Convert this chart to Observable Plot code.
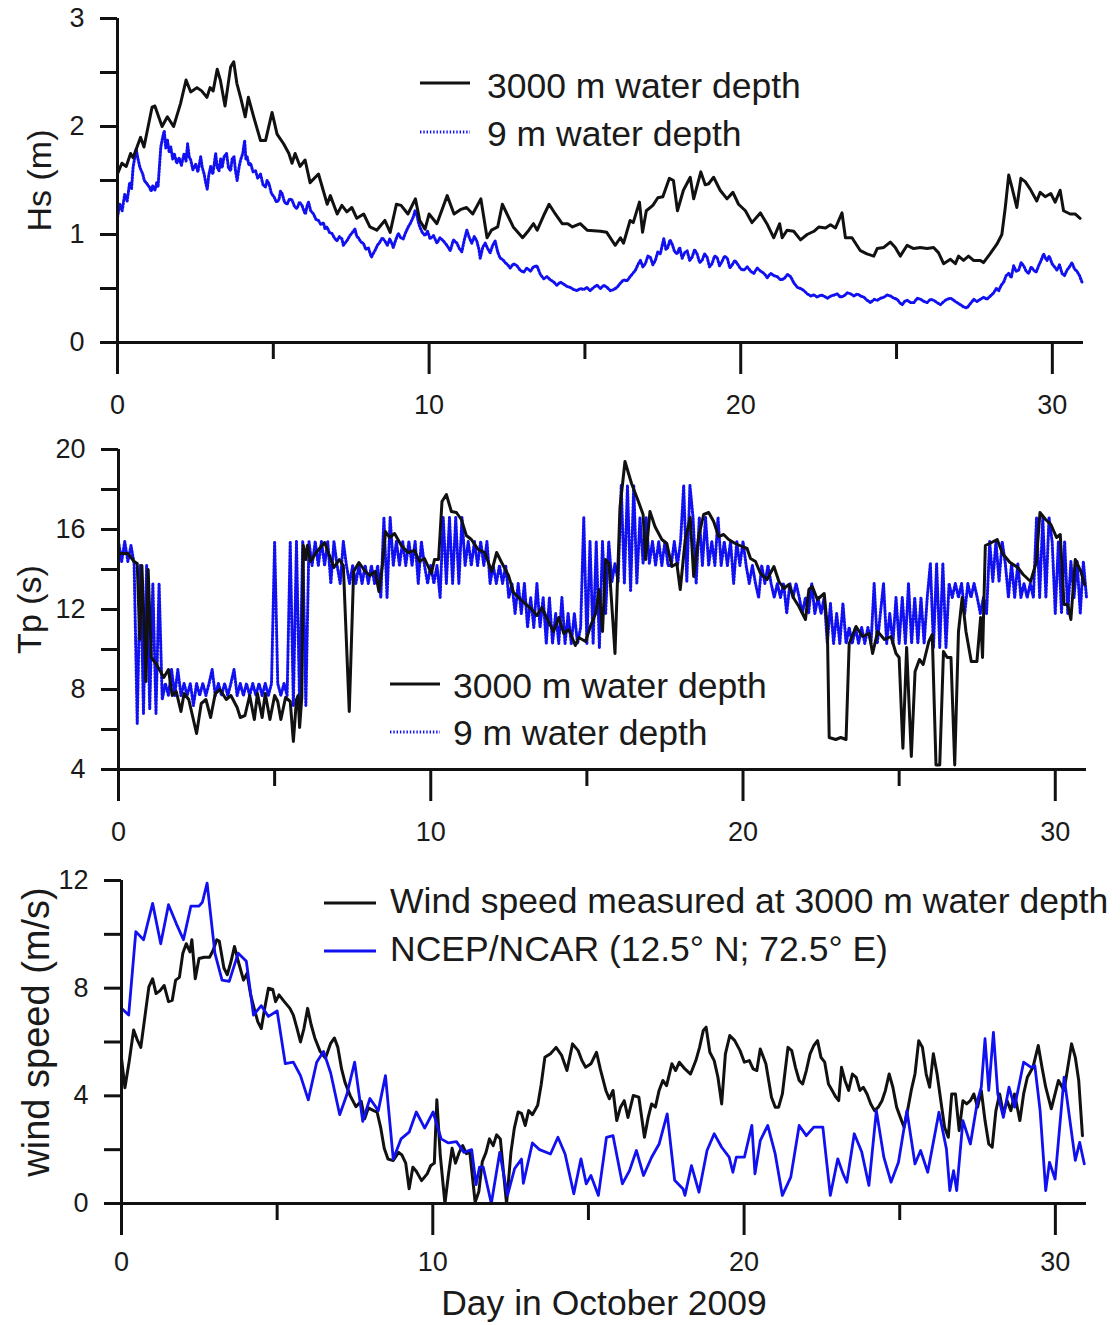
<!DOCTYPE html>
<html>
<head>
<meta charset="utf-8">
<script src="https://cdn.jsdelivr.net/npm/d3@7"></script>
<script src="https://cdn.jsdelivr.net/npm/@observablehq/plot@0.6"></script>
<style>
  body { margin: 0; background: #fff; }
  #wrap { position: relative; width: 1120px; height: 1325px; font-family: "Liberation Sans", Arial, Helvetica, sans-serif; }
  #wrap svg { display: block; }
  .legtext { position: absolute; font-size: 35.5px; line-height: 36px; height: 36px; color: #1a1a1a; white-space: nowrap; }
  .legline { position: absolute; overflow: visible; }
</style>
</head>
<body>
<div id="wrap"></div>
<script>
// ---------------- DATA ----------------
const xMajorTicks = [0, 10, 20, 30];
const xMinorTicks = [5, 15, 25];
const hsMajor = [0, 1, 2, 3];
const hsMinor = [0.5, 1.5, 2.5];
const tpMajor = [4, 8, 12, 16, 20];
const tpMinor = [6, 10, 14, 18];
const wsMajor = [0, 4, 8, 12];
const wsMinor = [2, 6, 10];

const seriesTp = ["3000 m water depth", "9 m water depth"];
const seriesWind = ["Wind speed measured at 3000 m water depth", "NCEP/NCAR (12.5\u00B0 N; 72.5\u00B0 E)"];
const yTitles = ["Hs (m)", "Tp (s)", "wind speed (m/s)"];
const xTitle = "Day in October 2009";

// Hs at 3000 m water depth  [day, m]
const hsDeep = [[0,1.56],[0.14,1.66],[0.28,1.63],[0.42,1.75],[0.5,1.71],[0.74,1.90],[0.85,1.81],[1.11,2.18],[1.2,2.19],[1.43,2.0],[1.6,2.09],[1.8,2.0],[2.02,2.21],[2.2,2.43],[2.35,2.32],[2.55,2.36],[2.7,2.33],[2.87,2.27],[2.97,2.36],[3.07,2.33],[3.2,2.53],[3.3,2.43],[3.45,2.19],[3.63,2.55],[3.73,2.60],[3.83,2.40],[3.95,2.27],[4.1,2.09],[4.2,2.27],[4.37,2.09],[4.59,1.87],[4.75,1.87],[4.96,2.13],[5.12,1.93],[5.33,1.84],[5.5,1.75],[5.6,1.66],[5.7,1.75],[5.86,1.63],[6.02,1.69],[6.18,1.48],[6.45,1.56],[6.73,1.28],[6.83,1.36],[7.05,1.19],[7.2,1.27],[7.36,1.21],[7.52,1.25],[7.68,1.15],[7.9,1.19],[8.1,1.07],[8.32,1.04],[8.58,1.13],[8.75,1.02],[8.95,1.28],[9.1,1.27],[9.32,1.19],[9.56,1.33],[9.7,1.13],[9.87,1.05],[10.0,1.19],[10.25,1.10],[10.58,1.36],[10.8,1.19],[11.0,1.23],[11.2,1.25],[11.4,1.19],[11.66,1.33],[11.86,0.97],[12.0,1.04],[12.2,1.07],[12.35,1.28],[12.5,1.19],[12.7,1.07],[13.0,0.97],[13.2,1.04],[13.35,1.10],[13.47,1.04],[13.7,1.19],[13.85,1.28],[14.05,1.19],[14.27,1.10],[14.45,1.10],[14.6,1.07],[14.85,1.10],[15.07,1.04],[15.5,1.03],[15.7,1.02],[15.97,0.90],[16.14,0.97],[16.24,0.92],[16.45,1.13],[16.55,1.11],[16.75,1.30],[16.85,1.02],[16.97,1.22],[17.18,1.27],[17.34,1.34],[17.5,1.35],[17.71,1.52],[17.84,1.50],[17.97,1.22],[18.16,1.41],[18.38,1.53],[18.49,1.33],[18.72,1.58],[18.86,1.46],[18.97,1.47],[19.13,1.53],[19.34,1.41],[19.56,1.33],[19.75,1.39],[19.93,1.28],[20.15,1.22],[20.36,1.11],[20.63,1.20],[20.84,1.10],[21.06,0.97],[21.25,1.10],[21.33,0.97],[21.49,1.04],[21.7,1.03],[21.92,0.95],[22.13,1.00],[22.35,1.03],[22.51,1.07],[22.72,1.06],[22.88,1.09],[23.04,1.06],[23.25,1.20],[23.36,0.97],[23.57,0.97],[23.84,0.85],[24.05,0.82],[24.27,0.80],[24.38,0.87],[24.59,0.88],[24.8,0.93],[24.96,0.88],[25.12,0.80],[25.34,0.90],[25.55,0.87],[25.76,0.88],[25.98,0.87],[26.19,0.88],[26.35,0.83],[26.51,0.73],[26.73,0.77],[26.89,0.73],[26.99,0.80],[27.15,0.76],[27.31,0.80],[27.47,0.76],[27.69,0.76],[27.79,0.74],[28.0,0.82],[28.22,0.91],[28.38,1.00],[28.49,1.25],[28.6,1.55],[28.7,1.44],[28.86,1.25],[28.99,1.52],[29.13,1.49],[29.29,1.42],[29.5,1.31],[29.61,1.39],[29.77,1.35],[29.95,1.38],[30.09,1.30],[30.25,1.41],[30.36,1.22],[30.57,1.19],[30.73,1.19],[30.89,1.15]];

// Hs at 9 m water depth  [day, m]
const hsShallow = [[0,1.16],[0.07,1.28],[0.15,1.22],[0.23,1.37],[0.31,1.31],[0.39,1.48],[0.45,1.42],[0.5,1.62],[0.6,1.79],[0.65,1.71],[0.72,1.62],[0.81,1.56],[0.86,1.50],[0.92,1.48],[1.02,1.44],[1.08,1.40],[1.13,1.45],[1.2,1.41],[1.26,1.48],[1.3,1.44],[1.39,1.81],[1.45,1.90],[1.5,1.96],[1.55,1.80],[1.6,1.88],[1.66,1.76],[1.71,1.81],[1.77,1.70],[1.82,1.75],[1.9,1.66],[1.98,1.71],[2.05,1.64],[2.14,1.75],[2.2,1.68],[2.25,1.84],[2.3,1.72],[2.35,1.69],[2.42,1.60],[2.51,1.65],[2.58,1.58],[2.67,1.72],[2.72,1.62],[2.78,1.56],[2.83,1.48],[2.88,1.42],[2.93,1.55],[2.99,1.63],[3.06,1.56],[3.15,1.75],[3.2,1.62],[3.26,1.59],[3.31,1.70],[3.36,1.62],[3.42,1.72],[3.5,1.75],[3.56,1.62],[3.63,1.59],[3.68,1.70],[3.74,1.72],[3.79,1.58],[3.84,1.50],[3.9,1.62],[3.95,1.69],[4.02,1.75],[4.08,1.87],[4.12,1.70],[4.16,1.72],[4.22,1.64],[4.27,1.66],[4.35,1.58],[4.43,1.59],[4.5,1.52],[4.59,1.56],[4.67,1.46],[4.75,1.44],[4.8,1.50],[4.86,1.47],[4.94,1.38],[5.02,1.35],[5.1,1.30],[5.18,1.32],[5.23,1.40],[5.28,1.38],[5.36,1.30],[5.44,1.28],[5.52,1.33],[5.6,1.32],[5.68,1.26],[5.76,1.24],[5.84,1.30],[5.92,1.27],[5.98,1.22],[6.03,1.19],[6.08,1.26],[6.13,1.30],[6.2,1.22],[6.29,1.19],[6.37,1.14],[6.45,1.13],[6.53,1.09],[6.61,1.11],[6.66,1.05],[6.72,1.07],[6.8,1.02],[6.88,1.01],[6.96,0.97],[7.04,0.94],[7.12,0.98],[7.2,0.96],[7.25,0.90],[7.3,0.92],[7.38,0.95],[7.46,0.99],[7.54,1.02],[7.62,1.05],[7.68,0.98],[7.73,0.97],[7.81,0.93],[7.89,0.92],[7.97,0.86],[8.05,0.88],[8.1,0.83],[8.15,0.79],[8.2,0.82],[8.26,0.85],[8.34,0.90],[8.42,0.93],[8.5,0.97],[8.58,0.94],[8.66,0.90],[8.74,0.96],[8.8,0.92],[8.85,0.88],[8.93,0.95],[9.01,1.01],[9.09,0.97],[9.17,0.96],[9.25,1.02],[9.33,1.07],[9.41,1.11],[9.49,1.16],[9.55,1.22],[9.6,1.19],[9.65,1.12],[9.7,1.07],[9.78,1.02],[9.87,0.99],[9.95,1.03],[10.03,0.96],[10.14,0.99],[10.25,0.92],[10.35,0.97],[10.46,0.94],[10.57,0.90],[10.68,0.85],[10.78,0.95],[10.89,0.92],[10.97,0.87],[11.05,0.84],[11.13,0.95],[11.21,1.04],[11.29,0.97],[11.37,0.92],[11.45,0.98],[11.53,0.94],[11.6,0.86],[11.64,0.78],[11.72,0.88],[11.8,0.92],[11.88,0.87],[11.96,0.83],[12.04,0.90],[12.12,0.94],[12.2,0.84],[12.28,0.78],[12.36,0.77],[12.44,0.74],[12.52,0.72],[12.6,0.69],[12.71,0.73],[12.82,0.71],[12.92,0.67],[13.03,0.65],[13.14,0.69],[13.25,0.66],[13.35,0.70],[13.46,0.71],[13.57,0.63],[13.68,0.59],[13.78,0.61],[13.89,0.58],[14.0,0.56],[14.1,0.53],[14.21,0.56],[14.32,0.54],[14.42,0.52],[14.53,0.51],[14.64,0.49],[14.75,0.48],[14.85,0.50],[14.96,0.49],[15.06,0.51],[15.17,0.48],[15.28,0.51],[15.39,0.53],[15.5,0.50],[15.6,0.53],[15.71,0.51],[15.82,0.48],[15.92,0.49],[16.03,0.51],[16.14,0.55],[16.24,0.58],[16.35,0.57],[16.45,0.61],[16.54,0.64],[16.62,0.67],[16.7,0.72],[16.78,0.76],[16.86,0.70],[16.94,0.73],[17.02,0.80],[17.1,0.79],[17.18,0.72],[17.26,0.76],[17.34,0.84],[17.42,0.82],[17.48,0.90],[17.53,0.96],[17.6,0.86],[17.66,0.88],[17.73,0.95],[17.8,0.91],[17.88,0.84],[17.96,0.82],[18.04,0.88],[18.12,0.78],[18.2,0.83],[18.28,0.85],[18.36,0.76],[18.44,0.79],[18.52,0.86],[18.6,0.82],[18.68,0.74],[18.76,0.76],[18.84,0.82],[18.92,0.79],[19.0,0.70],[19.08,0.73],[19.16,0.80],[19.24,0.79],[19.32,0.71],[19.4,0.75],[19.48,0.80],[19.57,0.78],[19.65,0.69],[19.73,0.72],[19.81,0.76],[19.89,0.73],[20.0,0.68],[20.1,0.67],[20.21,0.70],[20.32,0.66],[20.42,0.64],[20.53,0.69],[20.64,0.66],[20.75,0.64],[20.85,0.60],[20.96,0.64],[21.06,0.62],[21.17,0.61],[21.28,0.58],[21.39,0.59],[21.5,0.63],[21.6,0.61],[21.71,0.55],[21.82,0.51],[21.92,0.50],[22.03,0.48],[22.14,0.45],[22.25,0.43],[22.35,0.44],[22.46,0.42],[22.57,0.44],[22.67,0.43],[22.78,0.41],[22.89,0.43],[23.0,0.44],[23.1,0.45],[23.2,0.42],[23.31,0.43],[23.42,0.46],[23.53,0.45],[23.64,0.43],[23.74,0.45],[23.85,0.43],[23.95,0.42],[24.06,0.39],[24.17,0.37],[24.28,0.40],[24.38,0.39],[24.49,0.41],[24.6,0.42],[24.7,0.44],[24.81,0.43],[24.92,0.41],[25.02,0.40],[25.1,0.37],[25.18,0.35],[25.26,0.38],[25.34,0.39],[25.45,0.37],[25.56,0.37],[25.66,0.41],[25.77,0.40],[25.88,0.38],[25.98,0.37],[26.09,0.40],[26.2,0.39],[26.3,0.37],[26.41,0.35],[26.52,0.38],[26.62,0.40],[26.73,0.41],[26.84,0.39],[26.94,0.37],[27.05,0.35],[27.15,0.33],[27.26,0.32],[27.37,0.36],[27.48,0.40],[27.58,0.38],[27.69,0.40],[27.8,0.42],[27.9,0.40],[28.01,0.43],[28.12,0.46],[28.2,0.50],[28.28,0.48],[28.36,0.53],[28.44,0.56],[28.52,0.62],[28.6,0.64],[28.68,0.60],[28.76,0.71],[28.84,0.66],[28.92,0.67],[29.0,0.74],[29.08,0.71],[29.16,0.66],[29.24,0.64],[29.32,0.70],[29.4,0.67],[29.48,0.65],[29.56,0.71],[29.64,0.76],[29.72,0.82],[29.78,0.78],[29.83,0.76],[29.9,0.80],[29.99,0.73],[30.07,0.70],[30.15,0.67],[30.23,0.72],[30.31,0.64],[30.39,0.62],[30.47,0.67],[30.55,0.70],[30.63,0.74],[30.71,0.68],[30.79,0.66],[30.87,0.62],[30.95,0.56]];

// Tp at 3000 m water depth [day, s]
const tpDeep = [[0,14.8],[0.3,14.8],[0.5,14.4],[0.6,14.3],[0.68,10.5],[0.75,14.2],[0.88,8.4],[0.95,14.0],[1.05,9.6],[1.2,9.3],[1.45,8.6],[1.6,9.0],[1.72,7.7],[1.85,7.9],[2.0,6.9],[2.1,7.8],[2.25,7.5],[2.5,5.8],[2.65,7.3],[2.8,7.5],[2.95,6.6],[3.1,7.8],[3.25,8.0],[3.45,7.5],[3.6,7.7],[3.8,7.1],[3.9,6.6],[4.05,6.7],[4.2,7.7],[4.35,6.5],[4.45,7.8],[4.6,6.6],[4.7,7.8],[4.85,6.5],[5.0,7.7],[5.1,7.4],[5.2,6.5],[5.35,7.6],[5.5,7.4],[5.6,5.4],[5.7,7.5],[5.75,7.7],[5.8,6.1],[5.87,7.6],[5.92,15.2],[6.0,14.5],[6.05,15.2],[6.15,14.4],[6.33,14.85],[6.6,15.35],[6.9,14.1],[7.07,14.5],[7.2,14.2],[7.39,6.9],[7.53,13.9],[7.7,14.35],[7.88,13.95],[8.05,13.7],[8.22,13.9],[8.34,12.9],[8.45,14.2],[8.55,15.9],[8.68,15.6],[8.84,15.8],[9.06,15.2],[9.27,14.85],[9.48,14.95],[9.64,14.4],[9.8,14.55],[10.02,13.8],[10.12,14.5],[10.25,14.5],[10.36,17.4],[10.5,17.75],[10.66,16.9],[10.82,16.85],[10.98,16.5],[11.14,15.7],[11.3,15.5],[11.52,15.0],[11.73,14.85],[11.95,13.9],[12.11,14.85],[12.27,14.35],[12.49,13.7],[12.65,12.85],[12.81,12.6],[13.02,12.3],[13.24,12.0],[13.4,11.7],[13.56,12.1],[13.77,11.4],[13.93,10.9],[14.1,11.6],[14.26,10.8],[14.42,11.0],[14.63,10.2],[14.74,10.6],[14.96,10.4],[15.12,11.2],[15.28,11.8],[15.39,13.0],[15.5,10.9],[15.6,14.5],[15.71,14.3],[15.9,9.8],[16.06,17.1],[16.22,19.4],[16.43,18.3],[16.65,17.4],[16.8,16.75],[16.88,14.5],[17.02,16.9],[17.18,16.15],[17.4,15.5],[17.56,15.3],[17.72,14.15],[17.88,14.3],[17.99,13.0],[18.15,15.5],[18.31,16.6],[18.42,13.65],[18.58,15.65],[18.74,16.75],[18.9,16.85],[19.06,16.4],[19.22,15.65],[19.38,15.75],[19.54,15.5],[19.75,15.3],[19.97,15.15],[20.13,15.05],[20.24,14.55],[20.4,14.4],[20.56,13.8],[20.77,13.5],[20.99,14.15],[21.15,13.4],[21.31,13.05],[21.47,13.25],[21.63,12.55],[21.79,12.15],[22.0,11.5],[22.11,13.0],[22.22,13.15],[22.38,12.5],[22.6,12.8],[22.7,11.15],[22.76,5.6],[22.97,5.5],[23.13,5.6],[23.3,5.5],[23.4,10.3],[23.62,11.15],[23.83,10.65],[24.04,10.8],[24.15,9.8],[24.31,10.9],[24.53,10.5],[24.74,10.65],[24.9,9.8],[25.0,9.6],[25.12,5.06],[25.24,10.1],[25.39,4.65],[25.51,8.9],[25.65,9.5],[25.77,9.25],[25.95,10.4],[26.06,10.75],[26.18,4.23],[26.3,4.23],[26.42,9.9],[26.54,9.6],[26.66,9.6],[26.78,4.23],[26.9,10.9],[27.02,12.6],[27.14,10.9],[27.31,9.4],[27.49,9.4],[27.61,11.6],[27.67,9.6],[27.76,15.2],[27.9,15.3],[28.14,15.5],[28.31,14.8],[28.55,14.35],[28.8,14.1],[28.97,13.75],[29.21,13.4],[29.39,14.35],[29.51,16.85],[29.69,16.5],[29.86,16.25],[30.04,15.6],[30.16,15.75],[30.28,12.25],[30.4,12.25],[30.5,11.5],[30.64,14.5],[30.82,13.9],[30.94,13.25]];

// Tp at 9 m water depth, sampled every 0.1 day from day 0
const tpShallowStart = 0;
const tpShallowStep = 0.1;
const tpShallow = [
15.4,14.4,15.4,14.4,15.2,14.3,6.3,14.2,6.8,14.2,
7.0,13.3,6.8,13.3,7.5,8.3,7.7,9.0,7.7,9.0,
7.7,8.3,7.7,8.3,7.2,8.3,7.7,8.3,7.7,8.3,
9.0,7.7,8.3,7.7,8.3,7.7,8.3,9.0,7.7,8.3,
7.7,8.3,7.7,8.3,7.7,8.3,7.7,8.3,7.7,8.3,
15.4,8.3,7.7,8.3,7.7,15.4,7.2,15.4,7.2,15.4,
7.2,15.4,14.2,15.4,14.2,15.4,14.2,15.4,13.3,15.4,
14.2,13.3,15.4,14.2,13.3,14.2,13.3,14.2,13.3,14.2,
13.3,14.2,13.3,14.2,12.6,16.6,12.6,16.6,14.2,15.4,
14.2,15.4,14.2,15.4,14.2,15.4,13.3,15.4,14.2,13.3,
14.2,13.3,14.2,12.6,16.6,13.3,16.6,13.3,16.6,13.3,
16.6,14.2,15.4,14.2,15.4,14.2,15.4,14.2,15.4,13.3,
14.2,13.3,14.2,13.3,14.2,12.6,13.3,11.8,13.3,11.8,
13.3,11.1,12.6,11.1,13.3,11.1,12.6,10.3,12.6,10.3,
11.8,10.3,12.6,10.3,11.8,10.3,11.8,10.3,11.1,16.6,
10.3,15.4,10.3,15.4,10.1,15.4,11.8,15.4,13.4,14.3,
13.4,18.2,13.3,18.2,12.9,18.2,13.3,16.6,14.3,16.6,
14.3,15.4,14.2,15.4,14.2,15.4,14.2,14.2,15.4,14.2,
15.4,18.2,13.4,18.2,16.6,13.3,16.6,14.2,16.6,14.2,
15.4,14.2,16.6,14.2,15.4,14.2,15.4,13.3,15.4,14.2,
15.4,14.2,13.3,14.2,13.3,12.6,14.2,13.3,14.2,13.3,
12.6,13.3,12.6,13.3,11.8,13.3,12.6,13.3,12.6,11.8,
12.6,11.8,13.3,11.8,12.6,11.8,12.6,10.3,12.3,10.3,
11.8,10.3,12.3,10.3,11.1,10.3,11.1,10.3,11.1,10.3,
11.1,10.3,13.3,10.3,11.8,13.3,10.3,11.8,10.3,12.6,
10.3,12.6,10.3,13.3,10.3,12.6,10.3,12.6,10.3,12.6,
14.3,10.1,14.3,10.1,14.3,10.1,13.3,12.6,13.3,12.6,
13.3,11.8,13.3,12.6,13.3,12.6,11.8,12.6,11.8,15.4,
13.4,15.4,13.4,15.4,14.3,12.6,14.3,12.6,14.3,12.6,
13.3,12.6,13.3,12.6,16.6,12.6,16.6,12.6,16.6,15.4,
11.8,15.4,11.8,15.4,11.8,14.4,12.6,14.4,11.8,14.4,
12.6];

// Wind speed measured at 3000 m water depth [day, m/s]
const windBuoy = [[0,5.4],[0.11,4.3],[0.25,5.3],[0.39,6.45],[0.5,6.1],[0.62,5.8],[0.77,7.1],[0.88,8.05],[1.0,8.35],[1.11,7.8],[1.23,7.9],[1.37,8.1],[1.51,7.5],[1.63,7.55],[1.74,8.3],[1.86,8.4],[1.97,9.3],[2.08,9.65],[2.2,9.35],[2.26,9.8],[2.37,8.35],[2.49,9.1],[2.66,9.15],[2.83,9.15],[2.94,9.4],[3.06,9.8],[3.14,9.75],[3.29,8.75],[3.4,8.5],[3.52,9.0],[3.63,9.55],[3.75,9.0],[3.92,8.3],[4.03,8.55],[4.15,7.75],[4.26,7.25],[4.38,6.75],[4.49,6.5],[4.6,7.25],[4.72,8.0],[4.86,7.95],[4.95,7.5],[5.06,7.75],[5.23,7.5],[5.41,7.25],[5.52,7.0],[5.64,6.5],[5.75,6.0],[5.86,6.5],[5.98,7.25],[6.09,6.65],[6.21,6.15],[6.38,5.65],[6.55,5.4],[6.72,5.95],[6.84,6.15],[6.95,5.8],[7.07,5.0],[7.18,4.5],[7.35,4.0],[7.53,3.6],[7.7,3.8],[7.81,3.15],[7.93,3.55],[8.1,3.45],[8.21,3.4],[8.33,2.8],[8.44,2.05],[8.56,1.65],[8.73,1.6],[8.9,1.9],[9.01,1.8],[9.13,1.5],[9.24,0.55],[9.36,1.35],[9.47,1.2],[9.64,0.85],[9.82,1.1],[9.93,1.4],[10.05,1.5],[10.13,3.85],[10.24,1.8],[10.39,0.0],[10.5,1.05],[10.62,2.05],[10.73,1.5],[10.85,1.9],[10.96,2.15],[11.08,1.85],[11.19,1.9],[11.36,0.05],[11.48,0.45],[11.59,1.55],[11.71,1.9],[11.82,2.4],[11.94,2.15],[12.05,2.55],[12.17,2.4],[12.28,1.05],[12.37,0.0],[12.51,1.9],[12.62,2.8],[12.74,3.4],[12.85,3.35],[12.97,2.9],[13.08,3.45],[13.2,3.3],[13.37,3.65],[13.48,4.4],[13.6,5.43],[13.78,5.56],[13.96,5.8],[14.14,5.5],[14.31,4.94],[14.49,5.93],[14.67,5.68],[14.79,5.31],[14.91,5.06],[15.08,5.19],[15.26,5.62],[15.38,5.0],[15.56,4.2],[15.67,3.89],[15.79,4.2],[15.91,3.08],[16.03,3.58],[16.15,3.82],[16.27,3.2],[16.44,4.01],[16.62,3.95],[16.8,2.46],[16.92,3.2],[17.03,3.7],[17.15,3.58],[17.27,4.2],[17.39,4.57],[17.51,4.38],[17.68,5.19],[17.8,4.94],[17.92,5.25],[18.1,5.0],[18.28,4.81],[18.45,5.31],[18.57,5.8],[18.69,6.43],[18.78,6.55],[18.9,5.62],[19.04,5.31],[19.16,4.69],[19.28,3.7],[19.4,5.56],[19.54,6.24],[19.7,6.05],[19.87,5.68],[20.01,5.25],[20.17,5.31],[20.29,5.0],[20.41,4.94],[20.52,5.74],[20.7,5.19],[20.88,3.95],[21.0,3.58],[21.11,3.58],[21.23,4.07],[21.41,5.8],[21.53,5.68],[21.65,5.06],[21.77,4.57],[21.88,4.44],[22.0,4.94],[22.12,5.56],[22.24,5.87],[22.36,6.05],[22.47,5.43],[22.59,5.25],[22.71,4.44],[22.83,4.2],[22.95,3.95],[23.04,3.82],[23.13,5.06],[23.24,4.57],[23.36,4.2],[23.48,4.81],[23.6,4.69],[23.72,4.2],[23.83,4.32],[23.95,4.07],[24.07,3.7],[24.19,3.45],[24.31,3.58],[24.43,3.82],[24.54,4.2],[24.66,4.81],[24.78,4.32],[24.9,3.58],[25.02,3.2],[25.14,2.83],[25.25,3.45],[25.37,4.2],[25.49,4.81],[25.61,6.05],[25.73,5.8],[25.85,4.81],[25.96,4.32],[26.08,5.56],[26.2,4.81],[26.32,3.82],[26.44,2.83],[26.56,2.46],[26.67,4.07],[26.79,4.07],[26.91,2.71],[27.03,3.82],[27.15,3.7],[27.27,3.82],[27.38,4.07],[27.5,3.58],[27.62,4.2],[27.74,3.08],[27.86,2.21],[27.97,2.09],[28.09,3.45],[28.21,4.07],[28.33,3.33],[28.45,3.82],[28.57,3.45],[28.69,4.07],[28.86,3.08],[28.98,4.07],[29.1,4.69],[29.28,5.06],[29.45,5.87],[29.57,5.06],[29.69,4.32],[29.87,3.52],[29.99,4.07],[30.1,4.57],[30.28,4.2],[30.52,5.93],[30.64,5.43],[30.75,4.57],[30.87,2.52]];

// NCEP/NCAR wind speed [day, m/s]
const windNcep = [[0,7.25],[0.23,7.0],[0.46,10.1],[0.71,9.8],[1.0,11.15],[1.26,9.65],[1.51,11.1],[1.76,10.4],[1.99,9.8],[2.23,11.05],[2.49,11.05],[2.6,11.2],[2.75,11.9],[3.0,9.3],[3.23,8.3],[3.46,8.25],[3.75,9.3],[4.01,9.0],[4.24,7.0],[4.49,7.35],[4.72,6.95],[5.0,7.15],[5.26,5.2],[5.52,5.25],[5.75,4.75],[6.0,3.85],[6.27,5.25],[6.49,5.65],[6.72,4.85],[7.01,3.3],[7.24,4.05],[7.49,5.25],[7.75,3.05],[7.98,3.9],[8.25,3.45],[8.48,4.75],[8.73,1.65],[8.98,2.4],[9.24,2.65],[9.47,3.4],[9.74,2.8],[10.01,3.4],[10.27,2.4],[10.5,2.25],[10.76,2.3],[11.0,1.9],[11.25,2.0],[11.39,0.7],[11.5,1.35],[11.62,1.35],[11.88,0.0],[12.15,1.9],[12.4,0.3],[12.63,1.3],[12.85,1.65],[12.91,0.75],[13.2,2.25],[13.43,2.0],[13.78,1.84],[14.02,2.46],[14.25,1.84],[14.53,0.36],[14.76,1.66],[14.93,0.73],[15.08,1.04],[15.32,0.3],[15.58,2.46],[15.79,2.52],[16.09,0.73],[16.32,1.22],[16.54,1.97],[16.77,1.04],[17.03,1.72],[17.27,2.21],[17.53,3.33],[17.77,0.86],[18.04,0.54],[18.1,0.3],[18.31,1.41],[18.55,0.42],[18.81,1.97],[19.04,2.59],[19.28,2.09],[19.52,1.72],[19.64,1.16],[19.75,1.72],[20.01,1.72],[20.25,2.9],[20.35,1.1],[20.52,2.34],[20.76,2.9],[21.0,1.84],[21.23,0.3],[21.5,0.98],[21.77,2.9],[22.0,2.52],[22.24,2.84],[22.53,2.84],[22.77,0.3],[23.01,1.66],[23.18,1.1],[23.3,0.79],[23.54,2.59],[23.78,1.91],[24.01,0.67],[24.25,3.45],[24.49,1.72],[24.72,0.79],[24.96,1.53],[25.23,3.45],[25.49,1.47],[25.67,1.97],[25.9,1.16],[26.26,3.39],[26.5,2.03],[26.61,0.48],[26.73,1.22],[26.83,0.48],[27.03,3.08],[27.27,2.21],[27.5,3.82],[27.62,4.32],[27.74,6.12],[27.86,4.2],[28.01,6.36],[28.15,4.07],[28.33,3.2],[28.51,4.32],[28.69,3.58],[28.98,5.25],[29.22,5.06],[29.34,5.12],[29.51,3.45],[29.69,0.48],[29.81,1.53],[29.99,0.91],[30.28,4.69],[30.64,1.6],[30.78,2.27],[30.93,1.47]];

// ---------------- DRAWING ----------------
const FONT = '"Liberation Sans", Arial, Helvetica, sans-serif';
const BLACK = "#111111";
const BLUE = "#1010f0";
const DOTS = "1.4,1.9";
const rows = pairs => pairs.map(([day, v]) => ({day, v}));
const tpShallowRows = tpShallow.map((v, i) => ({day: tpShallowStart + i * tpShallowStep, v}));

function panel(cfg) {
  return Plot.plot({
    width: 1120,
    height: cfg.height,
    marginTop: cfg.mt,
    marginBottom: cfg.mb,
    marginLeft: cfg.ml,
    marginRight: cfg.mr,
    style: {fontFamily: FONT, fontSize: "27px", color: "#1a1a1a", background: "transparent", overflow: "visible"},
    x: {domain: [0, 31]},
    y: {domain: cfg.yDomain},
    marks: [
      ...cfg.marks,
      Plot.ruleY([cfg.yDomain[0]], {stroke: BLACK, strokeWidth: 3}),
      Plot.ruleX([0], {stroke: BLACK, strokeWidth: 3}),
      Plot.axisX({ticks: xMajorTicks, tickSize: 32, tickPadding: cfg.xPad, strokeWidth: 3, stroke: BLACK, fontSize: 27, label: null, tickFormat: d => String(d)}),
      Plot.axisX({ticks: xMinorTicks, tickSize: 17, strokeWidth: 3, stroke: BLACK, label: null, tickFormat: () => ""}),
      Plot.axisY({ticks: cfg.yMajor, tickSize: 17, tickPadding: 16, strokeWidth: 3, stroke: BLACK, fontSize: 27, label: null, tickFormat: d => String(d)}),
      Plot.axisY({ticks: cfg.yMinor, tickSize: 17, strokeWidth: 3, stroke: BLACK, label: null, tickFormat: () => ""}),
      Plot.text([cfg.ylabel], {text: d => d, frameAnchor: "left", textAnchor: "middle", lineAnchor: "middle", dx: cfg.ylabelDx, dy: cfg.ylabelDy || 0, rotate: -90, fontSize: cfg.ylabelSize, fill: "#1a1a1a"}),
      ...(cfg.extra || [])
    ]
  });
}

const wrap = document.getElementById("wrap");

// Panel 1: Hs
wrap.appendChild(panel({
  height: 430, mt: 18, mb: 88, ml: 117, mr: 37, xPad: 20,
  yDomain: [0, 3], yMajor: hsMajor, yMinor: hsMinor,
  ylabel: yTitles[0], ylabelDx: -77, ylabelSize: 34,
  marks: [
    Plot.line(rows(hsShallow), {x: "day", y: "v", stroke: BLUE, strokeWidth: 3, strokeDasharray: DOTS}),
    Plot.line(rows(hsDeep), {x: "day", y: "v", stroke: BLACK, strokeWidth: 3})
  ]
}));

// Panel 2: Tp
wrap.appendChild(panel({
  height: 430, mt: 19, mb: 91, ml: 118, mr: 34, xPad: 20,
  yDomain: [4, 20], yMajor: tpMajor, yMinor: tpMinor,
  ylabel: yTitles[1], ylabelDx: -88, ylabelSize: 34,
  marks: [
    Plot.line(tpShallowRows, {x: "day", y: "v", stroke: BLUE, strokeWidth: 3, strokeDasharray: DOTS}),
    Plot.line(rows(tpDeep), {x: "day", y: "v", stroke: BLACK, strokeWidth: 3})
  ]
}));

// Panel 3: wind
wrap.appendChild(panel({
  height: 465, mt: 20, mb: 122, ml: 121, mr: 34, xPad: 16,
  yDomain: [0, 12], yMajor: wsMajor, yMinor: wsMinor,
  ylabel: yTitles[2], ylabelDx: -85, ylabelDy: -10, ylabelSize: 38,
  marks: [
    Plot.line(rows(windBuoy), {x: "day", y: "v", stroke: BLACK, strokeWidth: 3}),
    Plot.line(rows(windNcep), {x: "day", y: "v", stroke: BLUE, strokeWidth: 2.8})
  ],
  extra: [
    Plot.text([xTitle], {text: d => d, frameAnchor: "bottom", lineAnchor: "middle", dy: 100, fontSize: 35.5, fill: "#1a1a1a"})
  ]
}));

// Legends (HTML overlay)
const legendItems = [
  {label: seriesTp[0], x1: 420, x2: 470, ly: 83, tx: 487, ty: 86, color: BLACK, dash: null},
  {label: seriesTp[1], x1: 420, x2: 470, ly: 132, tx: 487, ty: 134, color: BLUE, dash: DOTS},
  {label: seriesTp[0], x1: 390, x2: 440, ly: 684, tx: 453, ty: 686, color: BLACK, dash: null},
  {label: seriesTp[1], x1: 390, x2: 440, ly: 732, tx: 453, ty: 733, color: BLUE, dash: DOTS},
  {label: seriesWind[0], x1: 324, x2: 376, ly: 903, tx: 390, ty: 901, color: BLACK, dash: null},
  {label: seriesWind[1], x1: 324, x2: 376, ly: 951, tx: 390, ty: 949, color: BLUE, dash: null}
];
for (const it of legendItems) {
  const ns = "http://www.w3.org/2000/svg";
  const s = document.createElementNS(ns, "svg");
  s.setAttribute("class", "legline");
  s.setAttribute("width", it.x2 - it.x1);
  s.setAttribute("height", 6);
  s.style.left = it.x1 + "px";
  s.style.top = (it.ly - 3) + "px";
  const l = document.createElementNS(ns, "line");
  l.setAttribute("x1", 0); l.setAttribute("x2", it.x2 - it.x1);
  l.setAttribute("y1", 3); l.setAttribute("y2", 3);
  l.setAttribute("stroke", it.color); l.setAttribute("stroke-width", 2.8);
  if (it.dash) l.setAttribute("stroke-dasharray", it.dash);
  s.appendChild(l);
  wrap.appendChild(s);
  const t = document.createElement("div");
  t.className = "legtext";
  t.textContent = it.label;
  t.style.left = it.tx + "px";
  t.style.top = (it.ty - 18) + "px";
  wrap.appendChild(t);
}
</script>
</body>
</html>
